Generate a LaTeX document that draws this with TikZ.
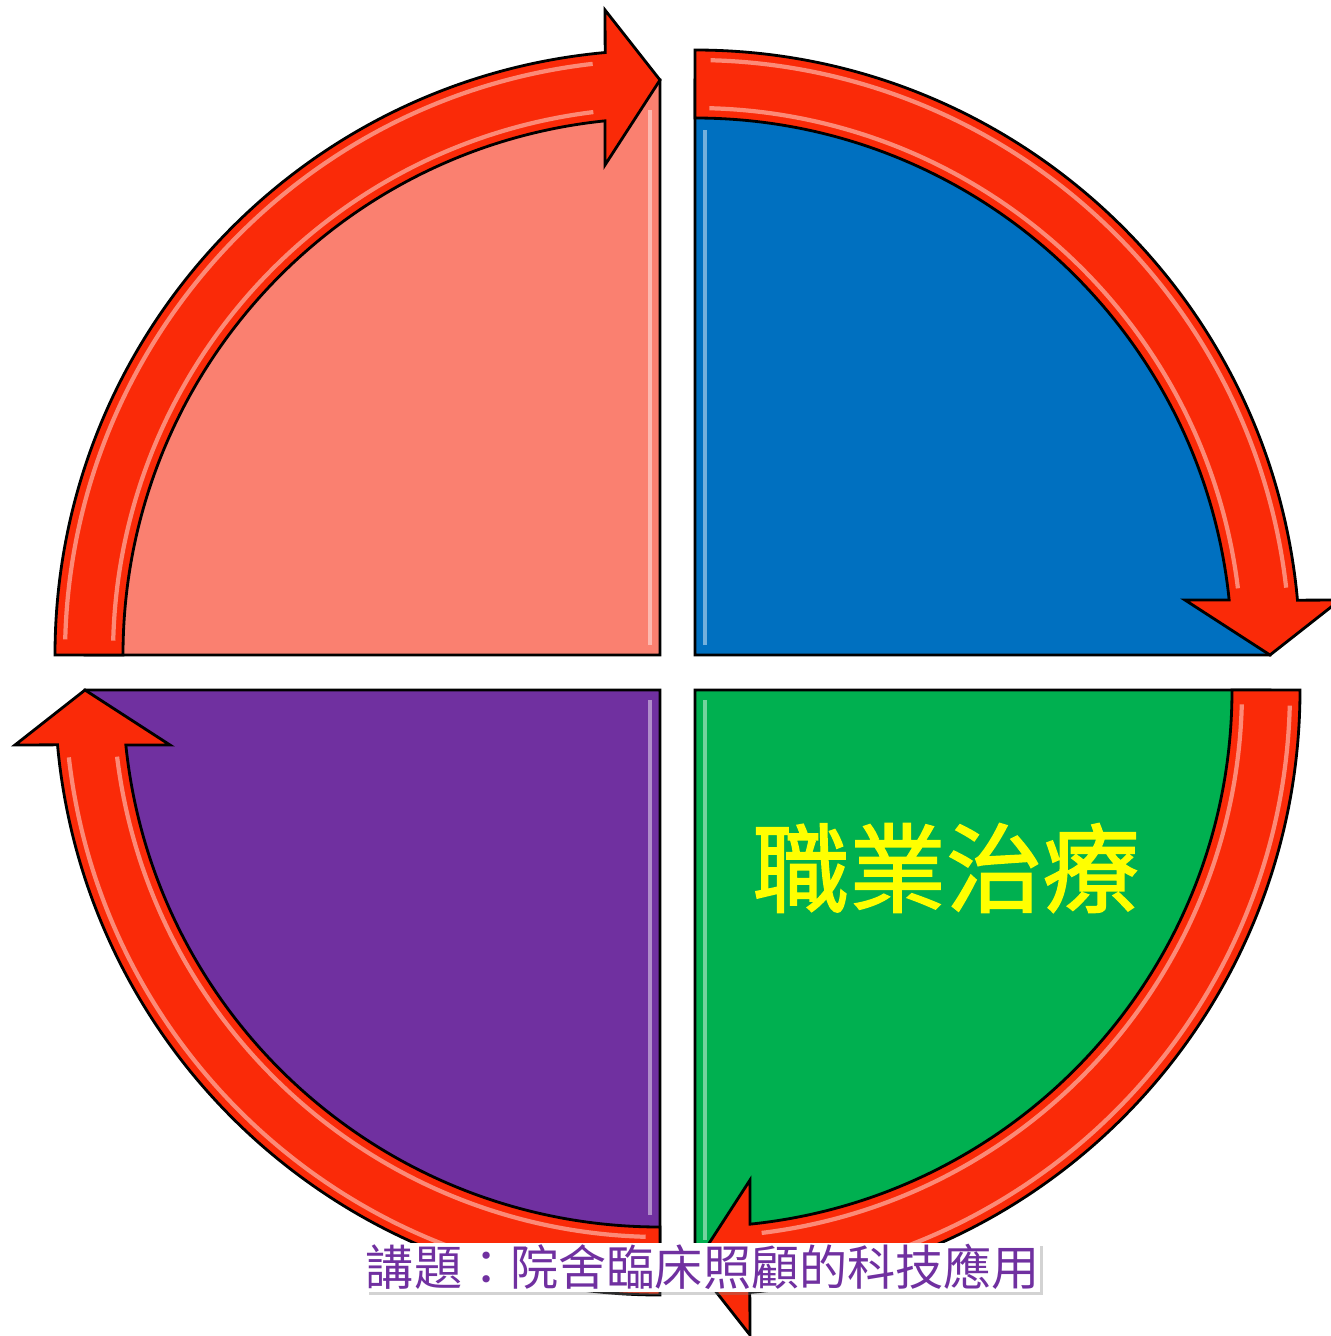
\documentclass[tikz,border=0pt]{standalone}
\usepackage{fontspec}
\newfontfamily\cjk{Noto Sans CJK TC}
\newfontfamily\cjkthick[FakeBold=1.6]{Noto Sans CJK TC}
\usetikzlibrary{shadows}
\definecolor{arrowred}{RGB}{250,42,8}
\definecolor{salmonfill}{RGB}{250,128,112}
\definecolor{bluefill}{RGB}{0,112,192}
\definecolor{greenfill}{RGB}{0,176,80}
\definecolor{purplefill}{RGB}{112,48,160}
\definecolor{labelyellow}{RGB}{255,255,0}

\begin{document}
\begin{tikzpicture}[quarter/.style={draw=black,line width=0.8pt},
                    rim arrow/.style={fill=arrowred,draw=black,line width=0.8pt},
                    gloss/.style={white,opacity=0.45,line width=1.2pt},
                    topic/.style={fill=white,inner sep=0pt,minimum width=6.73cm,
                                  minimum height=0.49cm,
                                  drop shadow={shadow xshift=0.03cm,shadow yshift=-0.03cm,opacity=0.35}}]

  \useasboundingbox (0,0) rectangle (13.30,-13.36);

  % four quarters, each with its arrow on the rim
  \foreach \cx/\cy/\rot/\col in {6.60/-6.55/0/salmonfill,
                                 6.95/-6.55/-90/bluefill,
                                 6.95/-6.90/180/greenfill,
                                 6.60/-6.90/90/purplefill}{
    \begin{scope}[shift={(\cx,\cy)},rotate=\rot]
      \draw[quarter,fill=\col] (0,0) -- (180:5.75)
        arc[start angle=180,end angle=90,radius=5.75] -- cycle;
      \draw[rim arrow] (180:6.05) arc[start angle=180,end angle=95.2,radius=6.05]
        -- (-0.55,6.45) -- (0,5.75) -- (-0.55,4.90) -- (95.88:5.37)
        arc[start angle=95.88,end angle=180,radius=5.37] -- cycle;
      \draw[gloss] (178.5:5.47) arc[start angle=178.5,end angle=97,radius=5.47];
      \draw[gloss] (178.5:5.95) arc[start angle=178.5,end angle=96.5,radius=5.95];
    \end{scope}
  }

  % light stripes along the vertical edges
  \draw[gloss] (6.50,-6.45) -- (6.50,-1.10);
  \draw[gloss] (7.05,-6.45) -- (7.05,-1.30);
  \draw[gloss] (7.05,-7.00) -- (7.05,-12.40);
  \draw[gloss] (6.50,-7.00) -- (6.50,-12.15);

  \node[text=labelyellow] (ot) at (9.46,-8.68)
    {\cjkthick\fontsize{27.5pt}{30pt}\selectfont 職業治療};
  \node[topic,text=purplefill] (topic) at (7.03,-12.67)
    {\cjk\fontsize{13.7pt}{15pt}\selectfont 講題：院舍臨床照顧的科技應用};
\end{tikzpicture}
\end{document}
